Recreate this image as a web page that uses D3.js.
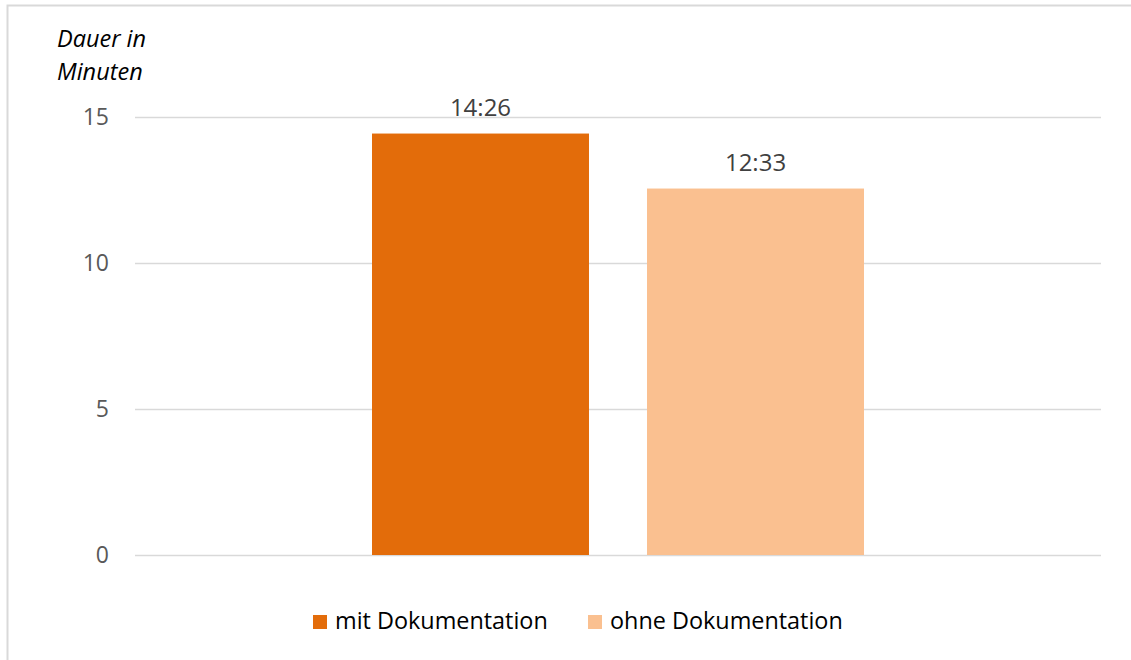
<!DOCTYPE html>
<html>
<head>
<meta charset="utf-8">
<script src="https://cdn.jsdelivr.net/npm/d3@7"></script>
<style>
  html, body { margin: 0; padding: 0; background: #fff; }
  svg { display: block; font-family: "Open Sans", "Noto Sans", sans-serif; }
</style>
</head>
<body>
<svg id="chart" width="1131" height="660"></svg>
<script>
// Durations in minutes (mm:ss shown on labels)
const categories = ["Dauer"];
const seriesNames = ["mit Dokumentation", "ohne Dokumentation"];
const durationLabels = ["14:26", "12:33"];
const seriesColors = ["#E36C0A", "#FAC090"];
const yTicks = [0, 5, 10, 15];

// convert "mm:ss" label to minutes
const toMinutes = s => { const [m, sec] = s.split(":").map(Number); return m + sec / 60; };
const values = durationLabels.map(toMinutes);

const svg = d3.select("#chart");
const W = 1131, H = 660;
const plot = { left: 135, right: 1101, top: 117, bottom: 555 };

// outer frame
svg.append("path")
  .attr("d", `M7.5,${H} V5.5 H${W}`)
  .attr("fill", "none").attr("stroke", "#D9D9D9").attr("stroke-width", 2);

const y = d3.scaleLinear().domain([0, 15]).range([plot.bottom, plot.top]);
const x0 = d3.scaleBand().domain(categories).range([plot.left, plot.right])
  .paddingInner(0).paddingOuter(0.4817);
const x1 = d3.scaleBand().domain(seriesNames).range([0, x0.bandwidth()])
  .paddingInner(0.211).paddingOuter(0);

// gridlines
svg.append("g").selectAll("line").data(yTicks).join("line")
  .attr("x1", plot.left).attr("x2", plot.right)
  .attr("y1", d => Math.round(y(d)) + 0.5).attr("y2", d => Math.round(y(d)) + 0.5)
  .attr("stroke", "#D9D9D9").attr("stroke-width", 1.5);

// y axis labels
const yAxis = d3.axisLeft(y).tickValues(yTicks).tickSize(0).tickPadding(0);
const gy = svg.append("g").attr("transform", "translate(109,0)").call(yAxis);
gy.select(".domain").remove();
gy.selectAll("text").attr("fill", "#595959").style("font-size", "23px")
  .style("font-family", "'Open Sans', 'Noto Sans', sans-serif");

// axis title
const title = svg.append("text").attr("x", 57).attr("fill", "#000")
  .style("font-size", "23.5px").style("font-style", "italic");
title.append("tspan").attr("x", 57).attr("y", 47).text("Dauer in");
title.append("tspan").attr("x", 57).attr("y", 80).text("Minuten");

// bars
const g = svg.append("g").attr("transform", `translate(${x0(categories[0])},0)`);
g.selectAll("rect").data(values).join("rect")
  .attr("x", (d, i) => x1(seriesNames[i]))
  .attr("width", x1.bandwidth())
  .attr("y", d => y(d))
  .attr("height", d => y(0) - y(d))
  .attr("fill", (d, i) => seriesColors[i]);

// value labels
g.selectAll("text.val").data(values).join("text")
  .attr("class", "val")
  .attr("x", (d, i) => x1(seriesNames[i]) + x1.bandwidth() / 2)
  .attr("y", d => y(d) - 18)
  .attr("text-anchor", "middle")
  .attr("fill", "#404040")
  .style("font-size", "24px")
  .text((d, i) => durationLabels[i]);

// legend
const legendX = [313, 588];
const leg = svg.append("g");
seriesNames.forEach((name, i) => {
  leg.append("rect").attr("x", legendX[i]).attr("y", 615)
    .attr("width", 14).attr("height", 14).attr("fill", seriesColors[i]);
  leg.append("text").attr("x", legendX[i] + 22).attr("y", 629)
    .attr("fill", "#000").style("font-size", "23.4px").text(name);
});
</script>
</body>
</html>
